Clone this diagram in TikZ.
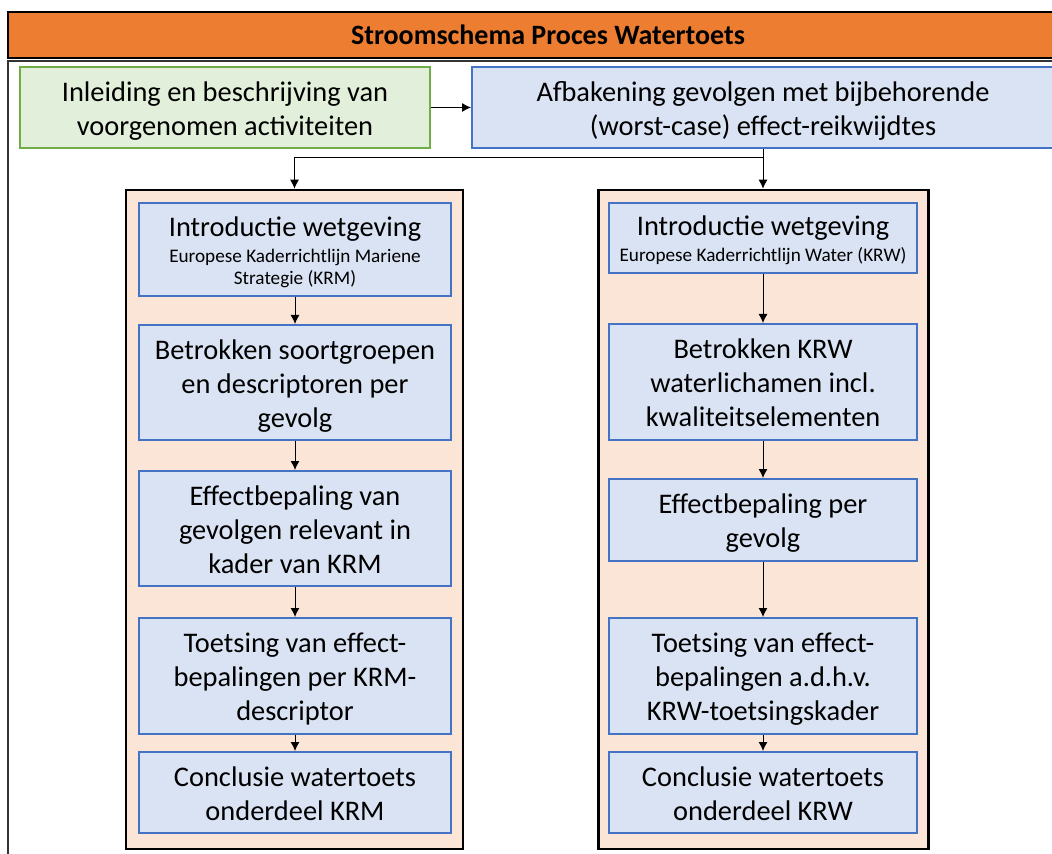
\documentclass[tikz,border=0pt]{standalone}
\usepackage{fontspec}
\setmainfont{Carlito}
\usetikzlibrary{arrows.meta}

\definecolor{titleorange}{HTML}{ED7D31}
\definecolor{greenfill}{HTML}{E2EFDA}
\definecolor{greenline}{HTML}{70AD47}
\definecolor{bluefill}{HTML}{DAE3F3}
\definecolor{blueline}{HTML}{4472C4}
\definecolor{panelfill}{HTML}{FBE5D6}

\newcommand{\mainsize}{\fontsize{14.2}{17}\selectfont}
\newcommand{\subsize}{\fontsize{9.6}{11}\selectfont}
% text block set a little lower in its box
\newcommand{\boxtext}[1]{\raisebox{-2pt}[\height][\depth]{\begin{tabular}{@{}c@{}}#1\end{tabular}}}

\begin{document}
\begin{tikzpicture}[x=0.5pt, y=-0.5pt,
  arr/.style={-{Latex[length=4.5pt,width=4.5pt]}, line width=0.5pt},
  stepbox/.style={draw=blueline, fill=bluefill, line width=1pt, inner sep=0pt, font=\mainsize},
  panel/.style={draw=black, fill=panelfill, line width=1.3pt, inner sep=0pt}]
 \clip (0,0) rectangle (1052,854);
 \useasboundingbox (0,0) rectangle (1052,854);
 % title bar and frame
 \node[draw=black, fill=titleorange, line width=0.6pt, minimum width=540pt, minimum height=23pt,
   font=\fontsize{14}{16}\bfseries] (title) at (548,35) {Stroomschema Proces Watertoets};
 \draw[black!80, line width=0.7pt] (1060,61) -- (8,61) -- (8,860);
 % top row
 \node[stepbox, draw=greenline, fill=greenfill,
   minimum width=205pt, minimum height=40.5pt] (intro) at (225,107.5)
   {\boxtext{Inleiding en beschrijving van\\voorgenomen activiteiten}};
 \node[stepbox, minimum width=291pt, minimum height=40.5pt] (afb) at (763,107.5)
   {\boxtext{Afbakening gevolgen met bijbehorende\\(worst-case) effect-reikwijdtes}};
 \draw[arr] (intro) -- (afb);
 % panels
 \node[panel, minimum width=168.5pt, minimum height=329.5pt] (krm) at (294.5,519.5) {};
 \node[panel, minimum width=165pt, minimum height=329.5pt] (krw) at (763.5,519.5) {};
 \coordinate (split) at (763,158);
 \draw[arr] (afb.south) -- (split) -| (krm.north);
 \draw[arr] (split) -- (split |- krw.north);
 % KRM column
 \node[stepbox, minimum width=156pt, minimum height=46.5pt] (m1) at (295,249.5)
   {\boxtext{Introductie wetgeving\\[-4pt]\subsize Europese Kaderrichtlijn Mariene\\[-6pt]\subsize Strategie (KRM)}};
 \node[stepbox, minimum width=156pt, minimum height=57.5pt] (m2) at (295,382.5)
   {\boxtext{Betrokken soortgroepen\\en descriptoren per\\gevolg}};
 \node[stepbox, minimum width=156pt, minimum height=57.5pt] (m3) at (295,528.5)
   {\boxtext{Effectbepaling van\\gevolgen relevant in\\kader van KRM}};
 \node[stepbox, minimum width=156pt, minimum height=58pt] (m4) at (295,676)
   {\boxtext{Toetsing van effect-\\bepalingen per KRM-\\descriptor}};
 \node[stepbox, minimum width=156pt, minimum height=40.5pt] (m5) at (295,792.5)
   {\boxtext{Conclusie watertoets\\onderdeel KRM}};
 % KRW column
 \node[stepbox, minimum width=154pt, minimum height=35pt] (w1) at (763,238)
   {\boxtext{Introductie wetgeving\\[-4pt]\subsize Europese Kaderrichtlijn Water (KRW)}};
 \node[stepbox, minimum width=154pt, minimum height=58pt] (w2) at (763,382)
   {\boxtext{Betrokken KRW\\waterlichamen incl.\\kwaliteitselementen}};
 \node[stepbox, minimum width=154pt, minimum height=41pt] (w3) at (763,520)
   {\boxtext{Effectbepaling per\\gevolg}};
 \node[stepbox, minimum width=154pt, minimum height=58pt] (w4) at (763,676)
   {\boxtext{Toetsing van effect-\\bepalingen a.d.h.v.\\KRW-toetsingskader}};
 \node[stepbox, minimum width=154pt, minimum height=40.5pt] (w5) at (763,792.5)
   {\boxtext{Conclusie watertoets\\onderdeel KRW}};
 \foreach \a/\b in {m1/m2, m2/m3, m3/m4, m4/m5, w1/w2, w2/w3, w3/w4, w4/w5}
   \draw[arr] (\a) -- (\b);
\end{tikzpicture}
\end{document}
